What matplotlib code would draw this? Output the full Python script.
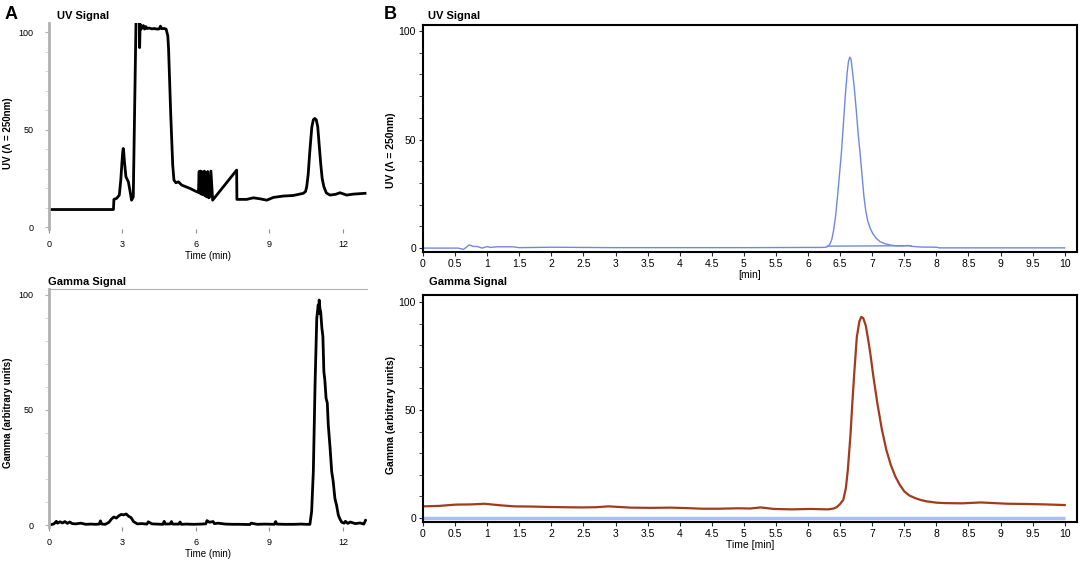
import matplotlib
matplotlib.use('Agg')
import matplotlib.pyplot as plt
from matplotlib.ticker import MultipleLocator

plt.rcParams['font.family'] = ['Liberation Sans', 'DejaVu Sans']

# Panel A - UV signal (min, signal)
uv_a_t = [0, 2.63, 2.65, 2.76, 2.87, 2.93, 2.98, 3.01, 3.03, 3.05, 3.08, 3.14, 3.24, 3.30,
          3.37, 3.44, 3.55, 3.60, 3.68, 3.70, 3.72, 3.76, 3.80, 3.85, 3.90, 3.95, 4.00,
          4.10, 4.20, 4.30, 4.40, 4.50, 4.55, 4.60, 4.70, 4.78, 4.85, 4.88, 4.97, 5.05,
          5.10, 5.18, 5.28, 5.42, 5.76, 6.03, 6.10, 6.13, 6.15, 6.18, 6.20, 6.23, 6.25,
          6.28, 6.31, 6.34, 6.37, 6.40, 6.43, 6.48, 6.52, 6.55, 6.61, 6.68, 7.66, 7.67,
          8.07, 8.34, 8.61, 8.89, 9.16, 9.56, 9.97, 10.38, 10.47, 10.52, 10.58, 10.63,
          10.68, 10.73, 10.79, 10.85, 10.91, 10.97, 11.03, 11.09, 11.15, 11.22, 11.32,
          11.47, 11.70, 11.88, 12.15, 12.42, 12.9]
uv_a_v = [9.0, 9.0, 14.2, 14.7, 16.4, 24.0, 33.5, 38.5, 40.3, 38.5, 33.5, 25.8, 23.2, 19.0,
          13.8, 15.5, 104.4, 112, 112, 92, 104, 101.5, 102.5, 103.3, 101.5, 102.8, 101.8,
          102.0, 101.6, 101.8, 101.5, 101.6, 103.0, 101.7, 101.8, 101.5, 98.0, 91.6, 57.4,
          31.8, 24.1, 22.7, 23.2, 21.5, 19.8, 18.1, 17.8, 28.5, 17.5, 28.7, 17.0, 28.5,
          16.8, 28.0, 16.5, 28.7, 16.0, 27.0, 15.5, 28.5, 15.0, 15.2, 28.7, 13.8, 29.2,
          14.2, 14.2, 15.0, 14.5, 13.8, 15.2, 15.9, 16.2, 17.3, 18.2, 20.7, 27.0, 36.1,
          44.0, 51.4, 55.0, 55.7, 55.0, 51.4, 42.0, 32.6, 25.0, 20.7, 17.5,
          16.4, 16.8, 17.6, 16.4, 16.9, 17.3]

# Panel A - gamma signal
gam_a_t = [0, 0.1, 0.2, 0.3, 0.35, 0.45, 0.55, 0.65, 0.75, 0.85, 0.95, 1.1, 1.3, 1.5, 1.7,
           1.9, 2.05, 2.1, 2.15, 2.3, 2.45, 2.55, 2.65, 2.75, 2.85, 2.95, 3.05, 3.15, 3.25,
           3.35, 3.45, 3.6, 3.8, 4.0, 4.05, 4.2, 4.4, 4.65, 4.7, 4.75, 4.95, 5.0, 5.05, 5.3,
           5.35, 5.4, 5.6, 5.9, 6.2, 6.4, 6.45, 6.55, 6.7, 6.75, 6.9, 7.2, 7.5, 7.8, 8.2,
           8.25, 8.5, 8.8, 9.2, 9.25, 9.3, 9.6, 10.0, 10.3, 10.5, 10.65, 10.72, 10.79, 10.86,
           10.93, 10.99, 11.01, 11.03, 11.06, 11.09, 11.14, 11.18, 11.22, 11.26, 11.31,
           11.36, 11.40, 11.47, 11.54, 11.60, 11.67, 11.74, 11.81, 11.88, 11.95,
           12.05, 12.1, 12.2, 12.3, 12.5, 12.7, 12.85, 12.92]
gam_a_v = [0.3, 0.2, 0.5, 1.6, 0.8, 1.4, 0.9, 1.5, 0.7, 1.3, 0.6, 0.5, 0.8, 0.3, 0.4,
           0.3, 0.4, 1.8, 0.4, 0.3, 1.2, 2.6, 3.5, 3.0, 4.0, 4.6, 4.4, 4.8, 3.8,
           3.2, 1.5, 0.5, 0.6, 0.4, 1.4, 0.5, 0.4, 0.3, 1.6, 0.4, 0.5, 1.5, 0.4, 0.4,
           1.3, 0.3, 0.4, 0.3, 0.4, 0.5, 1.9, 1.2, 1.5, 0.6, 0.8, 0.4, 0.3, 0.3, 0.2,
           0.8, 0.3, 0.4, 0.3, 1.5, 0.4, 0.3, 0.3, 0.4, 0.3, 0.3, 5.8, 23.2, 60.9,
           89.9, 95.7, 92.0, 97.8, 94.0, 92.7, 85.5, 82.0, 66.7, 63.0, 55.1,
           53.0, 43.5, 34.0, 23.2, 19.0, 11.6, 8.5, 4.3, 2.5, 1.2,
           0.8, 1.6, 0.7, 1.3, 0.6, 0.9, 0.4, 2.0]

# Panel B - UV signal
uv_b_t = [0, 0.55, 0.63, 0.68, 0.72, 0.78, 0.85, 0.92, 1.0, 1.05, 1.15, 1.4, 1.5, 2.0, 3.0,
          4.0, 5.0, 6.0, 6.2, 6.28, 6.31, 6.34, 6.37, 6.40, 6.43, 6.46, 6.49, 6.52, 6.55,
          6.58, 6.61, 6.63, 6.65, 6.67, 6.69, 6.72, 6.75, 6.78, 6.81, 6.84, 6.87, 6.90,
          6.93, 6.97, 7.01, 7.06, 7.12, 7.20, 7.30, 7.40, 7.48, 7.55, 7.62, 7.75, 8.0,
          8.05, 9.0, 10.0]
uv_b_v = [0, 0, -0.6, 0.5, 1.5, 0.8, 0.7, 0.0, 0.7, 0.3, 0.6, 0.6, 0.2, 0.4, 0.2,
          0.2, 0.2, 0.3, 0.3, 0.4, 0.8, 1.8, 4.0, 8.5, 15, 24, 34, 44, 57,
          70, 81, 86, 88, 87, 82, 74, 64, 53, 44, 34, 24, 17,
          12.5, 9.0, 6.6, 4.6, 3.0, 2.0, 1.3, 1.0, 1.0, 1.2, 0.8, 0.5, 0.4,
          0.1, 0.1, 0.1]
uv_b_base_t = [6.30, 7.60]
uv_b_base_v = [0.9, 1.1]

# Panel B - gamma signal
gam_b_t = [0, 0.25, 0.51, 0.75, 0.96, 1.2, 1.42, 1.7, 1.98, 2.2, 2.47, 2.7, 2.89, 3.24,
           3.55, 3.86, 4.1, 4.35, 4.6, 4.91, 5.1, 5.26, 5.47, 5.75, 6.03, 6.31, 6.40, 6.45,
           6.50, 6.55, 6.59, 6.62, 6.66, 6.69, 6.72, 6.76, 6.80, 6.83, 6.86, 6.90, 6.94,
           6.97, 7.02, 7.08, 7.15, 7.22, 7.29, 7.36, 7.43, 7.50, 7.58, 7.67, 7.76, 7.85,
           8.0, 8.13, 8.4, 8.69, 8.9, 9.11, 9.4, 9.7, 10.0]
gam_b_v = [5.4, 5.6, 6.2, 6.3, 6.6, 5.9, 5.4, 5.3, 5.1, 5.0, 4.9, 5.0, 5.4, 4.8,
           4.7, 4.8, 4.6, 4.3, 4.3, 4.5, 4.4, 4.9, 4.2, 4.0, 4.2, 4.0, 4.4, 5.1,
           6.5, 8.5, 14, 22.3, 38, 53.1, 67, 83.8, 91, 93.1, 92.5, 89, 82,
           76.2, 65, 53.1, 41, 31.5, 24.5, 19.2, 15.3, 12.3, 10.4, 9.2, 8.3, 7.7,
           7.1, 6.9, 6.8, 7.2, 6.9, 6.6, 6.5, 6.3, 6.0]

a_ticks = [0, 3, 6, 9, 12]
b_ticks = [i * 0.5 for i in range(21)]
y_ticks = [0, 50, 100]

fig = plt.figure(figsize=(10.84, 5.63), dpi=100)

grey = '#b0b0b0'
narrow = ['Liberation Sans Narrow', 'Liberation Sans']


def style_a(ax, ylabel, top_line, label_y):
    ax.set_xlim(0, 13)
    for s in ['right', 'bottom']:
        ax.spines[s].set_visible(False)
    ax.spines['top'].set_visible(top_line)
    ax.spines['top'].set_color(grey)
    ax.spines['left'].set_color(grey)
    ax.spines['left'].set_linewidth(2)
    ax.set_xticks(a_ticks)
    ax.set_xticklabels([str(t) for t in a_ticks])
    ax.set_yticks(y_ticks)
    ax.yaxis.set_minor_locator(MultipleLocator(10))
    ax.tick_params(axis='x', length=3, color='#909090', labelsize=6.5, pad=5)
    ax.tick_params(axis='y', which='major', length=3, color=grey, labelsize=6.5, pad=8)
    ax.tick_params(axis='y', which='minor', length=3, color='#d0d0d0')
    ax.set_xlabel('Time (min)', fontsize=7, labelpad=1)
    ax.set_ylabel(ylabel, fontsize=7, fontweight='bold')
    ax.yaxis.set_label_coords(-0.113, label_y)


def style_b(ax, ylabel, xlabel, label_y):
    ax.set_xlim(0, 10.19)
    for s in ax.spines.values():
        s.set_linewidth(1.5)
        s.set_color('black')
    ax.set_xticks(b_ticks)
    ax.set_xticklabels(['%g' % t for t in b_ticks], family=narrow)
    ax.set_yticks(y_ticks)
    ax.set_yticklabels([str(t) for t in y_ticks], family=narrow)
    ax.yaxis.set_minor_locator(MultipleLocator(10))
    ax.tick_params(axis='both', which='major', length=3, color='#1a2a40', labelsize=7.5, pad=2)
    ax.tick_params(axis='y', which='minor', length=3, color='#1a2a40')
    ax.set_xlabel(xlabel, fontsize=7.5, labelpad=1, family=narrow)
    ax.set_ylabel(ylabel, fontsize=7.5, fontweight='bold')
    ax.yaxis.set_label_coords(-0.041, label_y)


# A - UV
ax1 = fig.add_axes([0.0452, 0.5932, 0.2938, 0.3659])
ax1.plot(uv_a_t, uv_a_v, color='black', lw=2)
ax1.set_ylim(-1, 104.6)
style_a(ax1, 'UV (Λ = 250nm)', False, 0.466)

# A - gamma
ax2 = fig.add_axes([0.0452, 0.0634, 0.2938, 0.4233])
ax2.plot(gam_a_t, gam_a_v, color='black', lw=2)
ax2.set_ylim(-1, 102.6)
style_a(ax2, 'Gamma (arbitrary units)', True, 0.48)

# B - UV
ax3 = fig.add_axes([0.3902, 0.5524, 0.6033, 0.4032])
ax3.plot(uv_b_t, uv_b_v, color='#6f88e2', lw=1)
ax3.plot(uv_b_base_t, uv_b_base_v, color='#6f88e2', lw=1)
ax3.set_ylim(-1.8, 102.8)
style_b(ax3, 'UV (Λ = 250nm)', '[min]', 0.449)

# B - gamma
ax4 = fig.add_axes([0.3902, 0.0728, 0.6033, 0.4032])
ax4.hlines(0, 0, 10, color='#a8bdf0', lw=2.5)
ax4.plot(gam_b_t, gam_b_v, color='#a23b1c', lw=1.6)
ax4.set_ylim(-1.85, 103.2)
style_b(ax4, 'Gamma (arbitrary units)', 'Time [min]', 0.471)

fig.text(0.004, 0.975, 'A', fontsize=13, fontweight='bold', va='center')
fig.text(0.354, 0.975, 'B', fontsize=13, fontweight='bold', va='center')
fig.text(0.053, 0.972, 'UV Signal', fontsize=8, fontweight='bold', va='center')
fig.text(0.395, 0.972, 'UV Signal', fontsize=8, fontweight='bold', va='center')
fig.text(0.044, 0.499, 'Gamma Signal', fontsize=8, fontweight='bold', va='center')
fig.text(0.396, 0.499, 'Gamma Signal', fontsize=8, fontweight='bold', va='center')

fig.savefig('out.png', dpi=100)
